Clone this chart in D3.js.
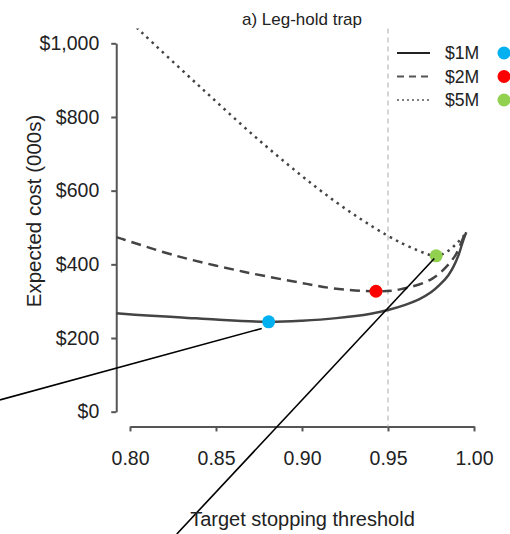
<!DOCTYPE html>
<html>
<head>
<meta charset="utf-8">
<script src="https://cdn.jsdelivr.net/npm/d3@7"></script>
<style>
    body { margin: 0; background: #fff; }
    text { font-family: "Liberation Sans", Arial, sans-serif; fill: #222; }
</style>
</head>
<body>
<div id="chartView"></div>
<script>
// threshold values and expected cost (000s)
var thr1M = [0.792, 0.81, 0.83, 0.85, 0.8806, 0.90, 0.92, 0.94, 0.95, 0.96, 0.968, 0.975, 0.980, 0.985, 0.988, 0.991, 0.9938, 0.9955];
var cost1M = [267, 261, 256, 250, 244, 247, 254, 266, 276, 290, 305, 324, 344, 370, 393, 425, 466, 487];

var thr2M = [0.792, 0.796, 0.827, 0.866, 0.9027, 0.918, 0.943, 0.957, 0.976, 0.9887, 0.994, 0.9955];
var cost2M = [474, 468, 423, 380, 347, 335, 327, 332, 362, 421, 475, 487];

var thr5M = [0.792, 0.806, 0.8407, 0.8795, 0.918, 0.949, 0.9667, 0.978, 0.9841, 0.99, 0.9952, 0.9955];
var cost5M = [1095, 1033, 882, 719, 575, 480, 439, 423, 434, 457, 484, 487];

var seriesNames = ["$1M", "$2M", "$5M"];
var dotColors = ["#00b0f0", "#ff0000", "#92d050"];
// optimum marked on each curve
var optThr = [0.8806, 0.943, 0.978];
var optCost = [244, 327, 423];

// pointer lines drawn over the figure: [thr1, cost1, thr2, cost2]
var pointers = [
    [0.8766, 226, 0.7244, 32],
    [0.9769, 416, 0.8272, -332]
];

var xTicks = [0.80, 0.85, 0.90, 0.95, 1.00];
var yTicks = [0, 200, 400, 600, 800, 1000];
var refLine = 0.95;

var width = 510,
    height = 534;

var svg = d3.select("#chartView").append("svg")
    .attr("width", width)
    .attr("height", height);

var xScale = d3.scaleLinear()
    .domain([0.80, 1.00])
    .range([130, 474]);
var yScale = d3.scaleLinear()
    .domain([0, 1000])
    .range([411.7, 43.3]);

// plot box (R style 4% padding)
var boxL = xScale(0.792), boxR = xScale(1.008),
    boxT = yScale(1040), boxB = yScale(-40);

svg.append("clipPath").attr("id", "plotClip")
    .append("rect")
    .attr("x", boxL).attr("y", boxT)
    .attr("width", boxR - boxL).attr("height", boxB - boxT);

// y axis
var yAxis = svg.append("g")
    .attr("transform", "translate(" + boxL + ",0)")
    .call(d3.axisLeft(yScale).tickValues(yTicks).tickSize(5).tickPadding(12)
        .tickSizeOuter(0)
        .tickFormat(function (d) { return "$" + d3.format(",")(d); }));
yAxis.selectAll("text").attr("font-size", 19.5).attr("fill", "#222");

// x axis
var xAxis = svg.append("g")
    .attr("transform", "translate(0," + boxB + ")")
    .call(d3.axisBottom(xScale).tickValues(xTicks).tickSize(5).tickPadding(20)
        .tickSizeOuter(0)
        .tickFormat(d3.format(".2f")));
xAxis.selectAll("text").attr("font-size", 19.5).attr("fill", "#222");

svg.selectAll(".domain, .tick line")
    .attr("stroke", "#555")
    .attr("stroke-width", 2);

// reference threshold
svg.append("line")
    .attr("x1", xScale(refLine)).attr("x2", xScale(refLine))
    .attr("y1", boxT).attr("y2", boxB)
    .attr("stroke", "#c8c8c8")
    .attr("stroke-width", 1.5)
    .attr("stroke-dasharray", "5,4");

var line_generator = d3.line()
    .x(function (d) { return xScale(d.x); })
    .y(function (d) { return yScale(d.y); })
    .curve(d3.curveCatmullRom.alpha(0.5));

function toPoints(xs, ys) {
    var pts = [];
    for (var i = 0; i < xs.length; i++) {
        pts.push({ x: xs[i], y: ys[i] });
    }
    return pts;
}

var curves = [toPoints(thr1M, cost1M), toPoints(thr2M, cost2M), toPoints(thr5M, cost5M)];
var dashes = [null, "10,6", "2.5,4.5"];
var widths = [2.5, 2.5, 2.5];

var curve_g = svg.append("g").attr("clip-path", "url(#plotClip)");
for (var i = 0; i < curves.length; i++) {
    curve_g.append("path")
        .attr("d", line_generator(curves[i]))
        .attr("fill", "none")
        .attr("stroke", "#444")
        .attr("stroke-width", widths[i])
        .attr("stroke-dasharray", dashes[i]);
}

// optimum dots
for (var i = 0; i < optThr.length; i++) {
    svg.append("circle")
        .attr("cx", xScale(optThr[i]))
        .attr("cy", yScale(optCost[i]))
        .attr("r", 6.5)
        .attr("fill", dotColors[i]);
}

// pointer lines
for (var i = 0; i < pointers.length; i++) {
    svg.append("line")
        .attr("x1", xScale(pointers[i][0])).attr("y1", yScale(pointers[i][1]))
        .attr("x2", xScale(pointers[i][2])).attr("y2", yScale(pointers[i][3]))
        .attr("stroke", "#000")
        .attr("stroke-width", 1.6);
}

// legend
var legend_g = svg.append("g");
for (var i = 0; i < seriesNames.length; i++) {
    var ly = 53 + i * 23.5;
    legend_g.append("line")
        .attr("x1", 397).attr("x2", 430)
        .attr("y1", ly).attr("y2", ly)
        .attr("stroke", i == 0 ? "#222" : "#555")
        .attr("stroke-width", i == 2 ? 1.5 : 2)
        .attr("stroke-dasharray", i == 0 ? null : (i == 1 ? "7,5" : "2,3"));
    legend_g.append("text")
        .attr("x", 445).attr("y", ly)
        .attr("dy", "0.36em")
        .attr("font-size", 17.6)
        .text(seriesNames[i]);
    legend_g.append("circle")
        .attr("cx", 504).attr("cy", ly)
        .attr("r", 6.5)
        .attr("fill", dotColors[i]);
}

// titles
svg.append("text")
    .attr("x", 302).attr("y", 25)
    .attr("text-anchor", "middle")
    .attr("font-size", 17)
    .text("a) Leg-hold trap");

svg.append("text")
    .attr("x", 302.5).attr("y", 526)
    .attr("text-anchor", "middle")
    .attr("font-size", 20)
    .text("Target stopping threshold");

svg.append("text")
    .attr("transform", "translate(40.5," + 211 + ") rotate(-90)")
    .attr("text-anchor", "middle")
    .attr("font-size", 20.5)
    .text("Expected cost (000s)");
</script>
</body>
</html>
